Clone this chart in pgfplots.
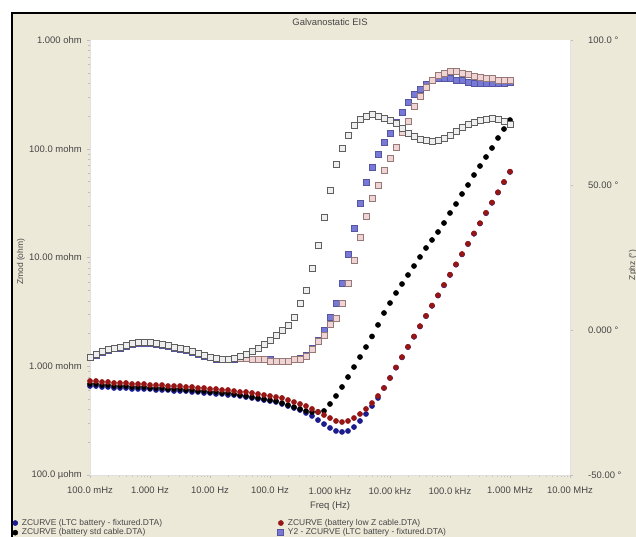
\documentclass[border=0pt]{standalone}
\usepackage{fontspec}
\setmainfont{Liberation Sans}
\usepackage{pgfplots}
\pgfplotsset{compat=1.18}
\usepackage{pgfplotstable}
\definecolor{framebg}{RGB}{236,233,216}
\definecolor{zblue}{RGB}{28,28,140}
\definecolor{zred}{RGB}{150,22,22}
\definecolor{pbluefill}{RGB}{120,120,215}
\definecolor{pbluedraw}{RGB}{85,85,160}
\definecolor{ppinkfill}{RGB}{240,212,212}
\definecolor{ppinkdraw}{RGB}{150,120,120}
\definecolor{pgrayfill}{RGB}{238,238,238}
\definecolor{pgraydraw}{RGB}{95,95,95}
\definecolor{txt}{RGB}{70,70,70}
\pgfplotstableread{
f zltc zlowz zstd pltc plowz pstd
1.000e-1 0.658 0.732 0.687 -9.6 -9.3 -9.31
1.259e-1 0.658 0.732 0.687 -8.6 -8.3 -8.28
1.585e-1 0.645 0.717 0.672 -7.6 -7.3 -7.24
1.995e-1 0.645 0.717 0.672 -6.9 -6.6 -6.55
2.512e-1 0.631 0.702 0.658 -6.5 -6.2 -6.21
3.162e-1 0.631 0.702 0.658 -6.2 -5.9 -5.86
3.981e-1 0.631 0.702 0.658 -5.5 -5.2 -5.17
5.012e-1 0.618 0.687 0.645 -4.8 -4.5 -4.48
6.310e-1 0.618 0.687 0.645 -4.5 -4.2 -4.14
7.943e-1 0.618 0.687 0.645 -4.5 -4.2 -4.14
1.000e0 0.618 0.672 0.631 -4.5 -4.2 -4.14
1.259e0 0.605 0.672 0.631 -4.8 -4.5 -4.48
1.585e0 0.605 0.672 0.631 -5.2 -4.9 -4.83
1.995e0 0.605 0.658 0.618 -5.5 -5.2 -5.17
2.512e0 0.592 0.658 0.618 -6.2 -5.9 -5.86
3.162e0 0.592 0.658 0.618 -6.6 -6.3 -6.21
3.981e0 0.592 0.645 0.605 -6.9 -6.6 -6.55
5.012e0 0.580 0.645 0.605 -7.6 -7.3 -7.24
6.310e0 0.580 0.631 0.592 -8.3 -8.0 -7.93
7.943e0 0.568 0.631 0.592 -9.0 -8.7 -8.62
1.000e1 0.568 0.618 0.580 -9.6 -9.3 -9.31
1.259e1 0.556 0.618 0.580 -10.0 -9.7 -9.66
1.585e1 0.556 0.605 0.568 -10.3 -10.0 -10.0
1.995e1 0.544 0.605 0.568 -10.3 -10.0 -10.0
2.512e1 0.544 0.592 0.556 -10.0 -9.7 -9.66
3.162e1 0.533 0.580 0.544 -9.7 -9.7 -8.97
3.981e1 0.521 0.580 0.533 -9.7 -9.7 -8.28
5.012e1 0.511 0.568 0.521 -10.0 -10.0 -7.24
6.310e1 0.500 0.556 0.511 -10.0 -10.3 -6.21
7.943e1 0.489 0.544 0.500 -10.3 -10.3 -4.83
1.000e2 0.479 0.533 0.489 -10.3 -10.7 -3.45
1.259e2 0.469 0.521 0.479 -10.7 -10.7 -1.72
1.585e2 0.450 0.511 0.459 -10.7 -10.7 0.0
1.995e2 0.431 0.489 0.440 -10.7 -10.7 1.72
2.512e2 0.413 0.469 0.422 -10.3 -10.3 4.48
3.162e2 0.396 0.450 0.405 -9.7 -10.0 9.31
3.981e2 0.372 0.431 0.388 -8.6 -9.0 13.79
5.012e2 0.349 0.405 0.380 -6.2 -6.6 21.38
6.310e2 0.320 0.380 0.380 -3.5 -4.1 29.31
7.943e2 0.294 0.356 0.388 0.0 -1.7 38.97
1.000e3 0.271 0.334 0.450 4.5 2.1 48.28
1.259e3 0.254 0.314 0.533 9.0 4.1 57.24
1.585e3 0.249 0.307 0.645 16.2 9.0 62.76
1.995e3 0.254 0.314 0.796 25.9 16.2 67.24
2.512e3 0.276 0.334 0.984 35.2 24.1 70.69
3.162e3 0.314 0.364 1.216 43.8 32.1 72.76
3.981e3 0.364 0.405 1.503 51.0 39.3 73.79
5.012e3 0.431 0.459 1.88 56.2 45.5 74.48
6.310e3 0.511 0.533 2.40 60.7 49.7 73.79
7.943e3 0.631 0.631 3.088 64.8 55.2 73.10
1.000e4 0.780 0.780 3.816 67.9 59.0 72.41
1.259e4 0.970 0.975 4.717 71.7 63.1 71.38
1.585e4 1.206 1.215 5.705 75.2 68.3 69.66
1.995e4 1.500 1.51 6.904 78.6 72.1 67.93
2.512e4 1.866 1.88 8.352 81.4 77.2 66.90
3.162e4 2.320 2.34 10.11 83.1 80.7 65.86
3.981e4 2.886 2.91 12.23 84.8 83.8 65.52
5.012e4 3.589 3.62 14.49 86.2 86.2 65.17
6.310e4 4.463 4.50 17.16 86.9 87.9 65.52
7.943e4 5.551 5.60 20.76 86.9 88.6 66.21
1.000e5 6.904 6.96 25.66 86.6 89.0 67.24
1.259e5 8.586 8.66 31.05 86.2 89.0 68.62
1.585e5 10.68 10.77 38.37 85.9 88.6 70.0
1.995e5 13.28 13.39 46.42 85.5 88.3 71.03
2.512e5 16.52 16.66 57.37 85.2 87.6 71.72
3.162e5 20.54 20.71 69.40 85.2 87.2 72.41
3.981e5 25.55 25.77 83.98 85.2 86.9 72.76
5.012e5 31.78 32.05 101.6 85.2 86.6 73.10
6.310e5 39.53 39.87 125.6 85.2 86.2 72.76
7.943e5 49.16 49.58 151.9 85.2 86.2 72.07
1.000e6 61.14 61.66 183.8 85.5 85.9 71.03
}\eis
\pgfplotsset{
  zltcstyle/.style={only marks, mark=*, mark size=2.6bp, mark options={draw=zblue, fill=zblue, line width=0.4bp}},
  zlowzstyle/.style={only marks, mark=*, mark size=2.6bp, mark options={draw=zred, fill=zred, line width=0.4bp}},
  zstdstyle/.style={only marks, mark=*, mark size=2.6bp, mark options={draw=black, fill=black, line width=0.4bp}},
  pltcstyle/.style={only marks, mark=square*, mark size=3.0bp, mark options={draw=pbluedraw, fill=pbluefill, line width=0.8bp}},
  plowzstyle/.style={only marks, mark=square*, mark size=3.0bp, mark options={draw=ppinkdraw, fill=ppinkfill, line width=0.8bp}},
  pstdstyle/.style={only marks, mark=square*, mark size=3.0bp, mark options={draw=pgraydraw, fill=pgrayfill, line width=0.8bp}},
  every axis/.append style={font=\fontsize{9.5}{11}\selectfont, text=txt},
}
\begin{document}
\begin{tikzpicture}
\useasboundingbox (0,0) rectangle (636bp,537bp);
\clip (0,0) rectangle (636bp,537bp);
\fill[white] (0,0) rectangle (636bp,537bp);
\fill[framebg] (12bp,-10bp) rectangle (660bp,524bp);
\draw[line width=2.6bp, black] (12bp,-10bp) -- (12bp,524bp) -- (660bp,524bp);
\begin{axis}[
  at={(90bp,62bp)}, anchor=south west,
  width=480bp, height=435bp, scale only axis,
  xmode=log, ymode=log,
  xmin=0.1, xmax=1e7, ymin=0.1, ymax=1000,
  axis background/.style={fill=white},
  axis x line*=bottom, axis y line*=left,
  axis line style={draw=black!12},
  tick style={draw=black!25},
  tick align=outside,
  major tick length=3bp, minor tick length=2bp,
  xtick={0.1,1,10,100,1000,10000,100000,1000000,10000000},
  xticklabels={100.0 mHz,1.000 Hz,10.00 Hz,100.0 Hz,1.000 kHz,10.00 kHz,100.0 kHz,1.000 MHz,10.00 MHz},
  ytick={0.1,1,10,100,1000},
  yticklabels={100.0 µohm,1.000 mohm,10.00 mohm,100.0 mohm,1.000 ohm},
  xticklabel style={anchor=north, inner sep=0pt, yshift=-9bp},
  yticklabel style={anchor=east, inner sep=0pt, xshift=-5bp},
  title={Galvanostatic EIS},
  title style={at={(rel axis cs:0.5,1.0276)}, anchor=center},
  xlabel={Freq (Hz)},
  xlabel style={at={(rel axis cs:0.5,-0.0713)}, anchor=center},
  ylabel={Zmod (ohm)},
  ylabel style={at={(rel axis cs:-0.14375,0.49)}, anchor=center, rotate=0, font=\fontsize{8.5}{10}\selectfont},
]
\addplot[zltcstyle] table[x=f, y=zltc] {\eis};
\addplot[zstdstyle] table[x=f, y=zstd] {\eis};
\addplot[zlowzstyle] table[x=f, y=zlowz] {\eis};
\end{axis}
\begin{axis}[
  at={(90bp,62bp)}, anchor=south west,
  width=480bp, height=435bp, scale only axis,
  xmode=log, xmin=0.1, xmax=1e7, ymin=-50, ymax=100,
  axis x line=none, axis y line*=right,
  axis line style={draw=black!12},
  tick style={draw=black!25},
  tick align=outside,
  major tick length=3bp,
  ytick={-50,0,50,100},
  yticklabels={-50.00 °,0.000 °,50.00 °,100.0 °},
  yticklabel style={anchor=west, inner sep=0pt, xshift=15bp},
  ylabel={Zphz (°)},
  ylabel style={at={(rel axis cs:1.131,0.4828)}, anchor=center, font=\fontsize{8.5}{10}\selectfont},
  legend columns=2,
  legend cell align=left,
  legend style={at={(rel axis cs:-0.1615,-0.0989)}, anchor=north west, draw=none, fill=none,
    inner sep=0pt, column sep=3bp, row sep=0pt,
    nodes={inner sep=1bp, font=\fontsize{8.5}{10}\selectfont, text=txt}},
  legend image code/.code={\draw[#1] plot coordinates {(0bp,0bp)};},
]
\addlegendimage{zltcstyle}
\addlegendentry{\makebox[252bp][l]{ZCURVE (LTC battery - fixtured.DTA)}}
\addlegendimage{zlowzstyle}
\addlegendentry{ZCURVE (battery low Z cable.DTA)}
\addlegendimage{zstdstyle}
\addlegendentry{\makebox[252bp][l]{ZCURVE (battery std cable.DTA)}}
\addplot[pltcstyle] table[x=f, y=pltc] {\eis};
\addlegendentry{Y2 - ZCURVE (LTC battery - fixtured.DTA)}
\addplot[plowzstyle, forget plot] table[x=f, y=plowz] {\eis};
\addplot[pstdstyle, forget plot] table[x=f, y=pstd] {\eis};
\end{axis}
\end{tikzpicture}
\end{document}
